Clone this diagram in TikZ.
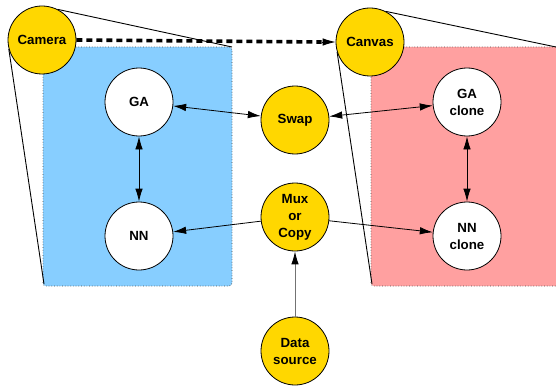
\documentclass[tikz,border=0pt]{standalone}
\usepackage{fontspec}
\setmainfont{Liberation Sans}
\usetikzlibrary{arrows.meta}
\definecolor{goldc}{RGB}{255,215,0}
\definecolor{bluec}{RGB}{135,206,255}
\definecolor{pinkc}{RGB}{255,160,160}
\tikzset{
  circ/.style={circle, draw=black, line width=0.8pt, minimum size=68pt, inner sep=0pt,
    align=center, font=\fontsize{13.3}{17}\selectfont\bfseries},
  yel/.style={circ, fill=goldc},
  wht/.style={circ, fill=white},
  panel/.style={draw=black!70, dotted, line width=0.7pt, rounded corners=3pt},
  frust/.style={draw=black, line width=0.9pt},
  link/.style={draw=black, line width=0.8pt, {Latex[length=13pt,width=7.5pt]}-{Latex[length=13pt,width=7.5pt]}},
  onelink/.style={draw=black, line width=0.8pt, -{Latex[length=13pt,width=7.5pt]}},
}
\begin{document}
\begin{tikzpicture}[x=1pt,y=-1pt]
\useasboundingbox (0,0) rectangle (556,385);
% panels
\path[panel, fill=bluec] (43,47) rectangle (232,286);
\path[panel, fill=pinkc] (371,47) rectangle (560,286);
\coordinate (btr) at (232,47);
\coordinate (bbl) at (44,284);
\coordinate (ptr) at (556,47);
\coordinate (pbl) at (372,284);
% nodes
\node[yel] (camera) at (42,40) {Camera};
\node[yel] (canvas) at (370,42) {Canvas};
\node[wht] (ga) at (139,102) {GA};
\node[wht] (nn) at (139,236) {NN};
\node[yel] (swap) at (295,120) {Swap};
\node[yel] (mux) at (295,217) {Mux\\or\\Copy};
\node[yel] (data) at (295,351) {Data\\source};
\node[wht] (gac) at (467,102) {GA\\clone};
\node[wht] (nnc) at (467,236) {NN\\clone};
% frustum lines
\draw[frust] (camera.63) -- (btr);
\draw[frust] (camera.195) -- (bbl);
\draw[frust] (canvas.63) -- (ptr);
\draw[frust] (canvas.197) -- (pbl);
% connectors
\draw[line width=3.6pt, dash pattern=on 6pt off 4pt] (camera.east) -- ([xshift=-14pt]canvas.west);
\draw[line width=0.8pt, -{Latex[length=13pt,width=7.5pt]}] ([xshift=-14pt]canvas.west) -- (canvas.west);
\draw[link] (ga) -- (swap);
\draw[link] (swap) -- (gac);
\draw[link] (ga) -- (nn);
\draw[link] (gac) -- (nnc);
\draw[onelink] (mux) -- (nn);
\draw[onelink] (mux) -- (nnc);
\draw[line width=0.9pt, draw=black!55, -{Latex[length=13pt,width=7.5pt,fill=black,color=black]}] (data) -- (mux);
\end{tikzpicture}
\end{document}
